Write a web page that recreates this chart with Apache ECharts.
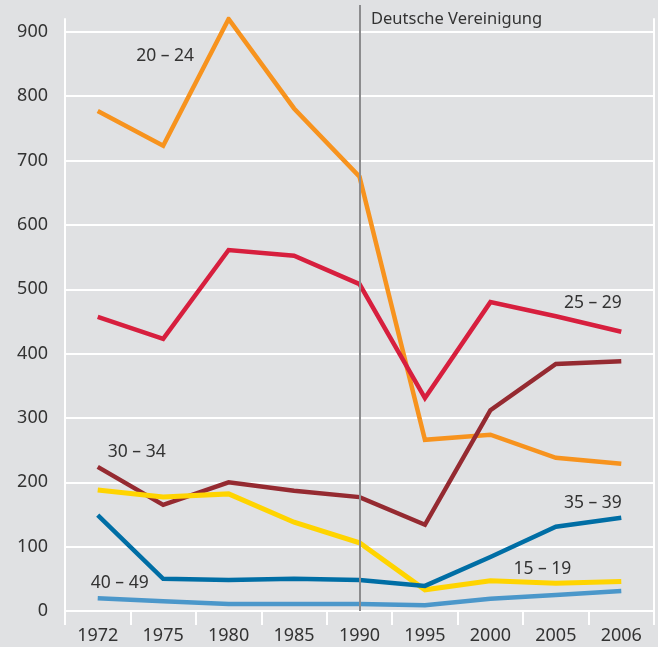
<!DOCTYPE html>
<html>
<head>
<meta charset="utf-8">
<script src="https://cdn.jsdelivr.net/npm/echarts@6/dist/echarts.min.js"></script>
<style>
  html, body { margin: 0; padding: 0; background: #e0e1e3; }
  #chart { width: 658px; height: 647px; }
</style>
</head>
<body>
<div id="chart"></div>
<script>
  // Jahre (Kategorien)
  var years = ['1972', '1975', '1980', '1985', '1990', '1995', '2000', '2005', '2006']
  // Werte je Altersgruppe
  var age15_19 = [188, 177, 182, 138, 106, 33, 47, 43, 46]
  var age20_24 = [777, 723, 920, 781, 675, 266, 274, 238, 229]
  var age25_29 = [457, 423, 561, 552, 508, 331, 480, 458, 434]
  var age30_34 = [224, 165, 200, 187, 177, 134, 312, 384, 388]
  var age35_39 = [149, 50, 48, 50, 48, 39, 84, 131, 145]
  var age40_49 = [20, 15, 11, 11, 11, 9, 19, 25, 31]
  var yTicks = [0, 100, 200, 300, 400, 500, 600, 700, 800, 900]
  var eventYear = '1990'
  var eventLabel = 'Deutsche Vereinigung'

  var font = 'Noto Sans'
  var textColor = '#333333'

  function tag (text, year, value, dx) {
    return {
      coord: [year, value],
      symbol: 'circle',
      symbolSize: 1,
      itemStyle: { color: 'rgba(0,0,0,0)' },
      label: {
        show: true,
        position: 'inside',
        formatter: text,
        offset: [dx, 0],
        color: textColor,
        fontFamily: font,
        fontSize: 17.5
      }
    }
  }

  function lineSeries (name, data, color, width, label) {
    return {
      name: name,
      type: 'line',
      data: data,
      symbol: 'none',
      silent: true,
      lineStyle: { color: color, width: width, cap: 'butt', join: 'miter' },
      emphasis: { disabled: true },
      markPoint: { silent: true, animation: false, data: [label] }
    }
  }

  var series = [
    lineSeries('20 – 24', age20_24, '#f7931e', 4.5, tag('20 – 24', '1975', 863, 2)),
    lineSeries('25 – 29', age25_29, '#d71f3e', 4.5, tag('25 – 29', '2005', 479, 37)),
    lineSeries('30 – 34', age30_34, '#952a31', 4.5, tag('30 – 34', '1972', 247, 39)),
    lineSeries('15 – 19', age15_19, '#ffd400', 5, tag('15 – 19', '2000', 65, 52)),
    lineSeries('35 – 39', age35_39, '#006ea5', 4.5, tag('35 – 39', '2005', 168, 37)),
    lineSeries('40 – 49', age40_49, '#4b97ca', 4.5, tag('40 – 49', '1972', 43, 22))
  ]

  // Markierung Deutsche Vereinigung
  series.push({
    type: 'line',
    data: [],
    silent: true,
    markLine: {
      silent: true,
      symbol: 'none',
      animation: false,
      lineStyle: { color: '#8c8c8e', width: 2, type: 'solid' },
      label: { show: false },
      data: [[{ xAxis: eventYear, yAxis: 0 }, { xAxis: eventYear, yAxis: 900, y: 5 }]]
    },
    markPoint: {
      silent: true,
      animation: false,
      data: [{
        coord: [eventYear, 920],
        symbol: 'circle',
        symbolSize: 1,
        itemStyle: { color: 'rgba(0,0,0,0)' },
        label: {
          show: true,
          position: 'right',
          distance: 11,
          formatter: eventLabel,
          color: textColor,
          fontFamily: font,
          fontSize: 16.5
        }
      }]
    }
  })

  var option = {
    animation: false,
    backgroundColor: '#e0e1e3',
    grid: { left: 65, right: 4, top: 19, bottom: 36 },
    xAxis: {
      type: 'category',
      data: years,
      boundaryGap: true,
      axisLine: { lineStyle: { color: '#ffffff', width: 2 } },
      axisTick: { show: true, length: 14, lineStyle: { color: '#ffffff', width: 2 } },
      axisLabel: { color: textColor, fontFamily: font, fontSize: 18, margin: 16 },
      splitLine: { show: false }
    },
    yAxis: [
      {
        type: 'value',
        min: yTicks[0],
        max: 920,
        interval: 100,
        axisLine: { show: true, lineStyle: { color: '#ffffff', width: 2 } },
        axisTick: { show: false },
        axisLabel: { color: textColor, fontFamily: font, fontSize: 18, margin: 17, showMaxLabel: false },
        splitLine: { show: true, showMaxLine: false, lineStyle: { color: '#ffffff', width: 2 } }
      },
      {
        type: 'value',
        position: 'right',
        min: yTicks[0],
        max: 920,
        interval: 100,
        axisLine: { show: true, lineStyle: { color: '#ffffff', width: 2 } },
        axisTick: { show: false },
        axisLabel: { show: false },
        splitLine: { show: false }
      }
    ],
    series: series
  }

  var chart = echarts.init(document.getElementById('chart'))
  chart.setOption(option)
</script>
</body>
</html>
